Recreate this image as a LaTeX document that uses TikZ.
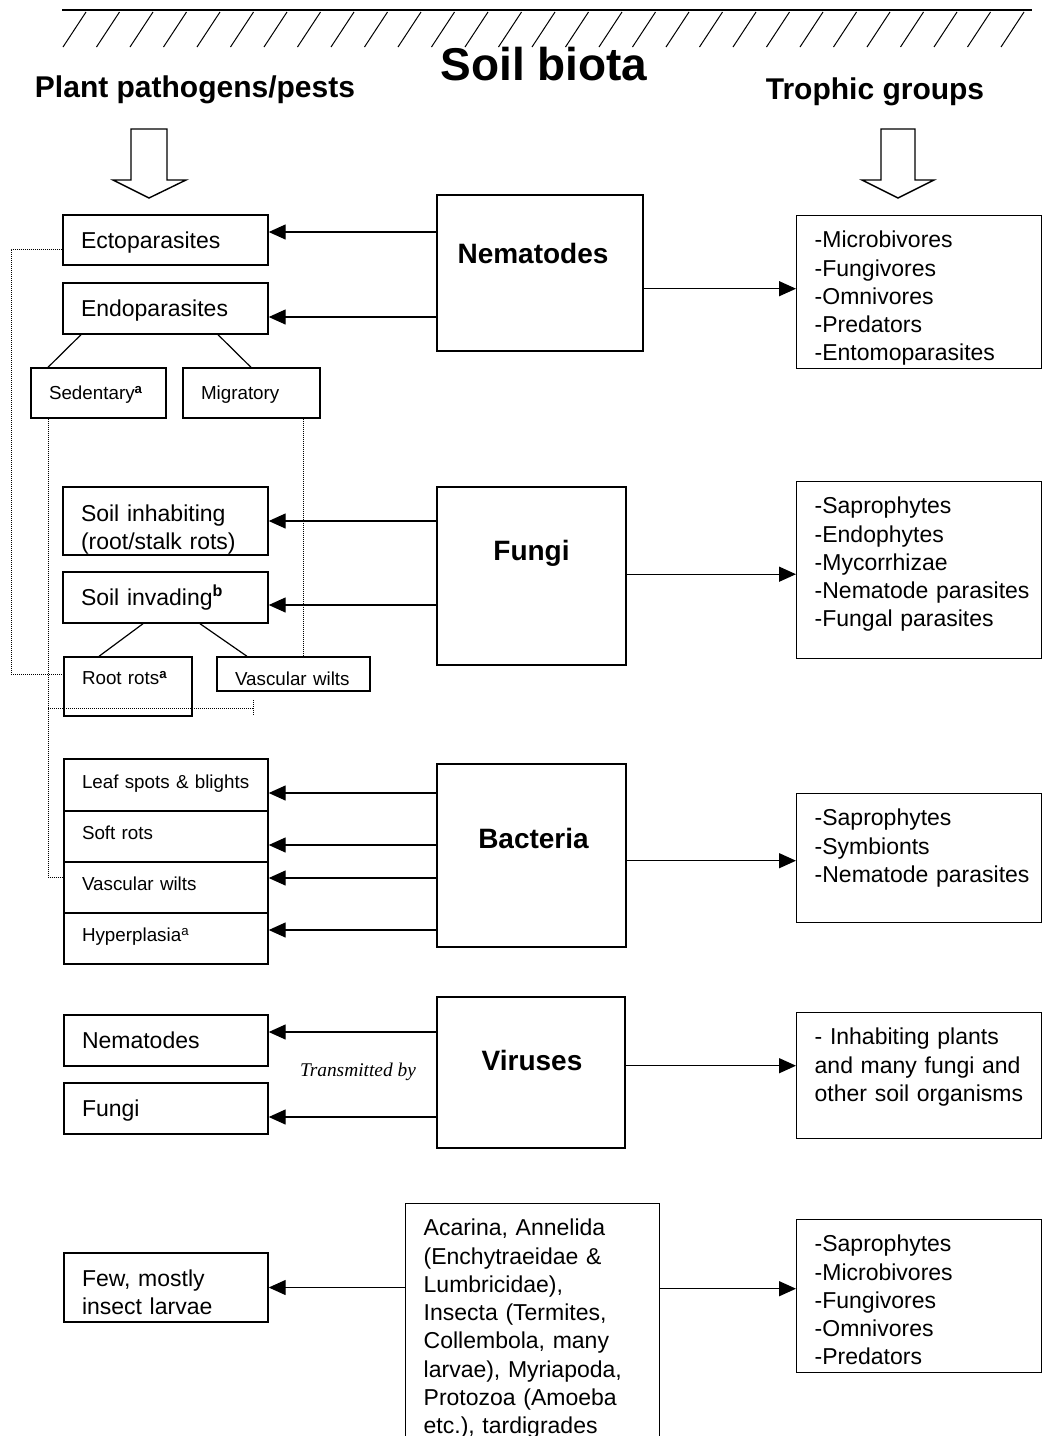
\documentclass[tikz,border=0pt]{standalone}
\usepackage{fontspec}
\setmainfont{Liberation Sans}
\newfontfamily\timesfont{Liberation Serif}
\usetikzlibrary{arrows.meta,calc}
\hyphenpenalty=10000
\exhyphenpenalty=10000

\begin{document}
\begin{tikzpicture}[x=1pt, y=-1pt,
    box/.style={draw, line width=1.4pt, inner xsep=18pt, inner ysep=0pt, align=left, text height=16pt, text depth=0pt, font=\fontsize{23}{28.3}\selectfont},
    smallbox/.style={box, text height=13.5pt, font=\fontsize{18.8}{22}\selectfont},
    midbox/.style={draw, line width=1.4pt, inner sep=0pt},
    midlabel/.style={font=\fontsize{28}{32}\selectfont\bfseries, text height=20pt, text depth=0pt, inner sep=0pt},
    troph/.style={box, anchor=north west, text width=209pt, inner ysep=16pt},
    head/.style={font=\fontsize{30}{36}\selectfont\bfseries, anchor=base, inner sep=0pt},
    arr/.style={line width=1.4pt, -{Triangle[length=17pt,width=15pt]}},
    dotline/.style={line width=0.9pt, dash pattern=on 1pt off 1pt},
    hollow/.style={line width=1.4pt, line join=miter}]
    \useasboundingbox (0,0) rectangle (1043,1436);
    % Soil surface
    \draw[line width=1.8pt] (62,10) -- (1032,10);
    \foreach \i in {0,...,28}
        \draw[line width=1pt] (63+33.5*\i,47) -- ++(23,-35);
    % Headings
    \node[head, font=\fontsize{46}{50}\selectfont\bfseries] (title) at (544,80) {Soil biota};
    \node[head] (pests) at (195,97) {Plant pathogens/pests};
    \node[head] (trophic) at (875,99) {Trophic groups};
    \draw[hollow] (131,129) -- (167,129) -- (167,180) -- (186,180) -- (149,198) -- (113,180) -- (131,180) -- cycle;
    \draw[hollow] (881,129) -- (915,129) -- (915,180) -- (934,180) -- (898,198) -- (862,180) -- (881,180) -- cycle;

    % Soil biota groups
    \node[midbox, minimum width=206pt, minimum height=156pt] (nem) at (540,273) {};
    \node[midbox, minimum width=189pt, minimum height=178pt] (fun) at (531.5,576) {};
    \node[midbox, minimum width=189pt, minimum height=183pt] (bac) at (531.5,855.5) {};
    \node[midbox, minimum width=188pt, minimum height=151pt] (vir) at (531,1072.5) {};
    \node[box, anchor=north west, text width=218pt, inner ysep=16pt, text depth=240pt] (fauna) at (405,1203)
        {Acarina, Annelida\\(Enchytraeidae \&\\Lumbricidae),\\Insecta (Termites,\\Collembola, many\\larvae), Myriapoda,\\Protozoa (Amoeba\\etc.), tardigrades};
    \node[midlabel] (nemlabel) at ($(nem.center)+(-7,-20)$) {Nematodes};
    \node[midlabel] (funlabel) at ($(fun.center)+(0,-26)$) {Fungi};
    \node[midlabel] (baclabel) at ($(bac.center)+(2,-17.5)$) {Bacteria};
    \node[midlabel] (virlabel) at ($(vir.center)+(1,-12.5)$) {Viruses};

    % Plant pathogens/pests
    \node[box, text width=169pt, minimum height=50pt] (ecto) at (165.5,240) {Ectoparasites};
    \node[box, text width=169pt, minimum height=51pt] (endo) at (165.5,308.5) {Endoparasites};
    \node[smallbox, text width=99pt, minimum height=50pt] (sed) at (98.5,393) {Sedentary\textsuperscript{\bfseries a}};
    \node[smallbox, text width=101pt, minimum height=50pt] (mig) at (251.5,393) {Migratory};
    \node[box, text width=169pt, minimum height=68pt, text depth=16pt] (inhab) at (165.5,521) {Soil~inhabiting\\(root/stalk~rots)};
    \node[box, text width=169pt, minimum height=51pt] (invad) at (165.5,597.5) {Soil~invading\textsuperscript{\bfseries b}};
    \node[smallbox, text width=92pt, minimum height=59pt, text depth=17pt] (rootrot) at (128,686.5) {Root~rots\textsuperscript{\bfseries a}};
    \node[smallbox, text width=117pt, minimum height=34pt, text height=23.5pt] (fwilt) at (293.5,674) {Vascular~wilts};
    \node[smallbox, text width=168pt, minimum height=52pt, text depth=7.5pt] (leaf) at (166,785) {Leaf~spots~\&~blights};
    \node[smallbox, text width=168pt, minimum height=51pt, text depth=7.5pt] (soft) at (166,836.5) {Soft~rots};
    \node[smallbox, text width=168pt, minimum height=51pt, text depth=7.5pt] (bwilt) at (166,887.5) {Vascular~wilts};
    \node[smallbox, text width=168pt, minimum height=51pt, text depth=7.5pt] (hyper) at (166,938.5) {Hyperplasia\textsuperscript{a}};
    \node[box, text width=168pt, minimum height=51pt] (vnem) at (166,1040.5) {Nematodes};
    \node[box, text width=168pt, minimum height=51pt] (vfun) at (166,1108.5) {Fungi};
    \node[box, text width=168pt, minimum height=69pt, text depth=19pt] (few) at (166,1287.5) {Few, mostly\\insect larvae};
    \node[font=\timesfont\itshape\fontsize{19.4}{22}\selectfont, inner sep=0pt] (trans) at (358,1072) {Transmitted by};

    % Trophic groups
    \node[troph, text depth=105pt] (tnem) at (796,215) {-Microbivores\\-Fungivores\\-Omnivores\\-Predators\\-Entomoparasites};
    \node[troph, text depth=129pt] (tfun) at (796,481) {-Saprophytes\\-Endophytes\\-Mycorrhizae\\\mbox{-Nematode parasites}\\-Fungal parasites};
    \node[troph, text depth=81pt] (tbac) at (796,793) {-Saprophytes\\-Symbionts\\\mbox{-Nematode parasites}};
    \node[troph, text depth=78pt] (tvir) at (796,1012) {- Inhabiting plants\\and many fungi and\\\mbox{other soil organisms}};
    \node[troph, text depth=105pt] (tfauna) at (796,1219) {-Saprophytes\\-Microbivores\\-Fungivores\\-Omnivores\\-Predators};

    % Subgroups
    \draw[line width=1.2pt] ($(endo.south)+(-84.5,0)$) -- ($(sed.north)+(-50.5,0)$);
    \draw[line width=1.2pt] ($(endo.south)+(52.5,0)$) -- ($(mig.north)+(-0.5,0)$);
    \draw[line width=1.2pt] ($(invad.south)+(-22.5,0)$) -- ($(rootrot.north)+(-29,0)$);
    \draw[line width=1.2pt] ($(invad.south)+(34.5,0)$) -- ($(fwilt.north)+(-46.5,0)$);

    % Dotted links
    \coordinate (seddrop) at ($(sed.south)+(-50.5,0)$);
    \coordinate (migdrop) at ($(mig.south)+(51.5,0)$);
    \coordinate (rotend) at (253,708);
    \draw[dotline] ($(ecto.west)+(0,9)$) -- ++(-51,0) |- ($(rootrot.west)+(0,-12.5)$);
    \draw[dotline] (seddrop) |- ($(bwilt.west)+(0,-10.5)$);
    \draw[dotline] (migdrop) -- (migdrop |- fwilt.north);
    \draw[dotline] (seddrop |- rotend) -- (rotend) ++(0,-8) -- ++(0,16);

    % Arrows to pests
    \draw[arr] ($(ecto.east -| nem.west)+(0,-8)$) -- ($(ecto.east)+(0,-8)$);
    \draw[arr] ($(endo.east -| nem.west)+(0,8.5)$) -- ($(endo.east)+(0,8.5)$);
    \draw[arr] (inhab.east -| fun.west) -- (inhab.east);
    \draw[arr] ($(invad.east -| fun.west)+(0,7.5)$) -- ($(invad.east)+(0,7.5)$);
    \draw[arr] ($(leaf.east -| bac.west)+(0,8)$) -- ($(leaf.east)+(0,8)$);
    \draw[arr] ($(soft.east -| bac.west)+(0,8.5)$) -- ($(soft.east)+(0,8.5)$);
    \draw[arr] ($(bwilt.east -| bac.west)+(0,-9.5)$) -- ($(bwilt.east)+(0,-9.5)$);
    \draw[arr] ($(hyper.east -| bac.west)+(0,-8.5)$) -- ($(hyper.east)+(0,-8.5)$);
    \draw[arr] ($(vnem.east -| vir.west)+(0,-8.5)$) -- ($(vnem.east)+(0,-8.5)$);
    \draw[arr] ($(vfun.east -| vir.west)+(0,8.5)$) -- ($(vfun.east)+(0,8.5)$);
    \draw[arr] (few.east -| fauna.west) -- (few.east);

    % Arrows to trophic groups
    \draw[arr] ($(tnem.west -| nem.east)+(0,-3.5)$) -- ($(tnem.west)+(0,-3.5)$);
    \draw[arr] ($(tfun.west -| fun.east)+(0,4)$) -- ($(tfun.west)+(0,4)$);
    \draw[arr] ($(tbac.west -| bac.east)+(0,2.5)$) -- ($(tbac.west)+(0,2.5)$);
    \draw[arr] ($(tvir.west -| vir.east)+(0,-10)$) -- ($(tvir.west)+(0,-10)$);
    \draw[arr] ($(tfauna.west -| fauna.east)+(0,-7.5)$) -- ($(tfauna.west)+(0,-7.5)$);
\end{tikzpicture}
\end{document}
